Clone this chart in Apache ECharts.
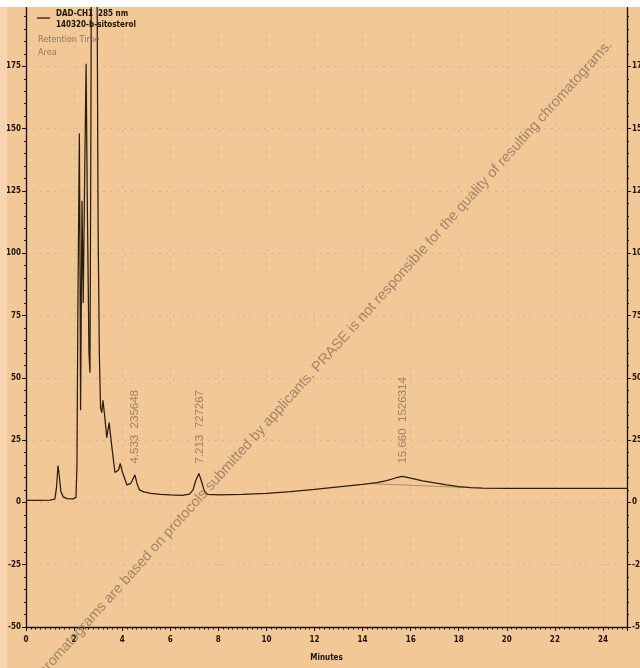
<!DOCTYPE html>
<html>
<head>
<meta charset="utf-8">
<script src="https://cdn.jsdelivr.net/npm/echarts@6/dist/echarts.min.js"></script>
<style>
html,body{margin:0;padding:0;background:#F3C897;overflow:hidden;}
#chart{width:640px;height:668px;}
</style>
</head>
<body>
<div id="chart"></div>
<script>
// Retention time (minutes) and detector signal (mAU)
var times = [0, 0.5, 1.0, 1.2, 1.27, 1.33, 1.38, 1.45, 1.55, 1.7, 1.95, 2.08, 2.12, 2.16, 2.22, 2.25, 2.27, 2.3, 2.33, 2.38, 2.44, 2.5, 2.55, 2.62, 2.66, 2.7, 2.73, 2.8, 2.86, 2.91, 2.96, 3.0, 3.05, 3.1, 3.15, 3.2, 3.28, 3.36, 3.46, 3.55, 3.7, 3.85, 3.92, 4.0, 4.2, 4.35, 4.53, 4.62, 4.72, 4.9, 5.2, 5.6, 6.0, 6.5, 6.8, 6.95, 7.05, 7.19, 7.3, 7.42, 7.55, 8.0, 9.0, 10.0, 11.0, 12.0, 13.0, 14.0, 14.6, 15.0, 15.4, 15.66, 16.0, 16.5, 17.0, 17.5, 18.0, 18.5, 19.0, 20.0, 22.0, 24.0, 25.0];
var signal = [0.8, 0.8, 0.9, 1.3, 6, 14.8, 11, 4.5, 2.2, 1.5, 1.4, 2, 15, 80, 148, 90, 37, 80, 121, 80, 130, 176, 120, 60, 52, 150, 260, 230, 240, 300, 200, 110, 60, 38, 36, 41, 34, 26, 32, 24, 12, 13, 15.6, 12.5, 7, 7.5, 11, 7.5, 5, 4.2, 3.6, 3.2, 3.0, 2.8, 3.3, 5, 8.5, 11.6, 8.5, 4.5, 3.2, 3.0, 3.2, 3.6, 4.3, 5.2, 6.2, 7.2, 7.9, 8.7, 9.9, 10.4, 9.7, 8.6, 7.8, 7.0, 6.3, 5.9, 5.7, 5.6, 5.6, 5.6, 5.6];
// integration baseline under the 15.66 peak
var baseTimes = [14.4, 18.2];
var baseValues = [7.5, 6.0];
// peak annotations
var peakTimes = [4.533, 7.213, 15.660];
var peakAreas = [235648, 727267, 1526314];

var yTicks = {min: -50, max: 200, interval: 25};
var xTicks = {min: 0, max: 25, interval: 2};

var trace = times.map(function (t, i) { return [t, signal[i]]; });
var baseLine = baseTimes.map(function (t, i) { return [t, baseValues[i]]; });
var labelBase = 15.6;
var peakPts = peakTimes.map(function (t, i) {
  return {value: [t, labelBase], name: t.toFixed(3) + '  ' + peakAreas[i]};
});

var axisFont = {fontFamily: '"Liberation Sans Narrow","DejaVu Sans Condensed","Liberation Sans",sans-serif', fontWeight: 'bold', fontSize: 8, color: '#1a120a'};
var gridLine = {show: true, lineStyle: {color: 'rgba(115,105,95,0.22)', type: [2, 5], width: 1}};

function yAxisDef(pos) {
  return {
    type: 'value', position: pos, min: yTicks.min, max: yTicks.max, interval: yTicks.interval,
    axisLine: {show: true, lineStyle: {color: '#1a120a', width: 1.3}},
    axisTick: {show: true, length: 4, lineStyle: {color: '#1a120a'}},
    minorTick: {show: true, splitNumber: 5, length: 2, lineStyle: {color: '#1a120a'}},
    axisLabel: Object.assign({margin: 5}, axisFont),
    splitLine: pos === 'left' ? gridLine : {show: false}
  };
}

var chart = echarts.init(document.getElementById('chart'), null, {renderer: 'canvas'});
chart.setOption({
  backgroundColor: '#F3C897',
  animation: false,
  grid: {left: 26, right: 13, top: 4, bottom: 41, containLabel: false, outerBoundsMode: 'none'},
  xAxis: {
    type: 'value', min: xTicks.min, max: xTicks.max, interval: xTicks.interval,
    name: 'Minutes', nameLocation: 'middle', nameGap: 27,
    nameTextStyle: {fontFamily: axisFont.fontFamily, fontWeight: 'bold', fontSize: 8, color: '#1a120a'},
    axisLine: {show: true, onZero: false, lineStyle: {color: '#1a120a', width: 1.3}},
    axisTick: {show: true, length: 4, lineStyle: {color: '#1a120a'}},
    minorTick: {show: true, splitNumber: 10, length: 2.5, lineStyle: {color: '#1a120a'}},
    axisLabel: Object.assign({margin: 9, showMaxLabel: false}, axisFont),
    splitLine: gridLine
  },
  yAxis: [yAxisDef('left'), yAxisDef('right')],
  series: [
    {
      type: 'line', data: trace, showSymbol: false, symbol: 'none', clip: true,
      lineStyle: {color: '#2a1c0f', width: 1.25}, z: 3
    },
    {
      type: 'line', data: baseLine, showSymbol: false, symbol: 'none',
      lineStyle: {color: 'rgba(60,40,20,0.45)', width: 0.8}, z: 2
    },
    {
      type: 'scatter', data: peakPts, symbolSize: 0, z: 4,
      label: {
        show: true, position: 'inside', rotate: 90, align: 'left', verticalAlign: 'middle',
        formatter: function (p) { return p.name; },
        fontFamily: '"Liberation Sans","DejaVu Sans",sans-serif', fontSize: 11.5,
        color: 'rgba(115,98,78,0.85)'
      }
    }
  ],
  graphic: [
    {type: 'rect', shape: {x: 0, y: 0, width: 7, height: 668}, style: {fill: '#F7D5B0'}, z: 50, silent: true},
    {type: 'rect', shape: {x: 0, y: 0, width: 640, height: 7}, style: {fill: '#FFFFFF'}, z: 60, silent: true},
    {type: 'line', shape: {x1: 37, y1: 18, x2: 50, y2: 18}, style: {stroke: '#2a1c0f', lineWidth: 1.3}, z: 70},
    {type: 'text', x: 56, y: 14, style: {text: 'DAD-CH1  285 nm', fill: '#1a120a', font: 'bold 8px "Liberation Sans Narrow","DejaVu Sans Condensed",sans-serif', textVerticalAlign: 'middle'}, z: 70},
    {type: 'text', x: 56, y: 25, style: {text: '140320-b-sitosterol', fill: '#1a120a', font: 'bold 8px "Liberation Sans Narrow","DejaVu Sans Condensed",sans-serif', textVerticalAlign: 'middle'}, z: 70},
    {type: 'text', x: 38, y: 40, style: {text: 'Retention Time', fill: '#8a7863', font: '9px "Liberation Sans Narrow","DejaVu Sans Condensed",sans-serif', textVerticalAlign: 'middle'}, z: 70},
    {type: 'text', x: 38, y: 53, style: {text: 'Area', fill: '#8a7863', font: '9px "Liberation Sans Narrow","DejaVu Sans Condensed",sans-serif', textVerticalAlign: 'middle'}, z: 70},
    {type: 'text', x: 322, y: 362, rotation: 48 * Math.PI / 180,
     style: {text: 'Chromatograms are based on protocols submitted by applicants. PRASE is not responsible for the quality of resulting chromatograms.',
             fill: 'rgba(125,105,85,0.7)', font: '14.5px "Liberation Sans","DejaVu Sans",sans-serif', textAlign: 'center', textVerticalAlign: 'middle'}, z: 40, silent: true}
  ]
});
</script>
</body>
</html>
